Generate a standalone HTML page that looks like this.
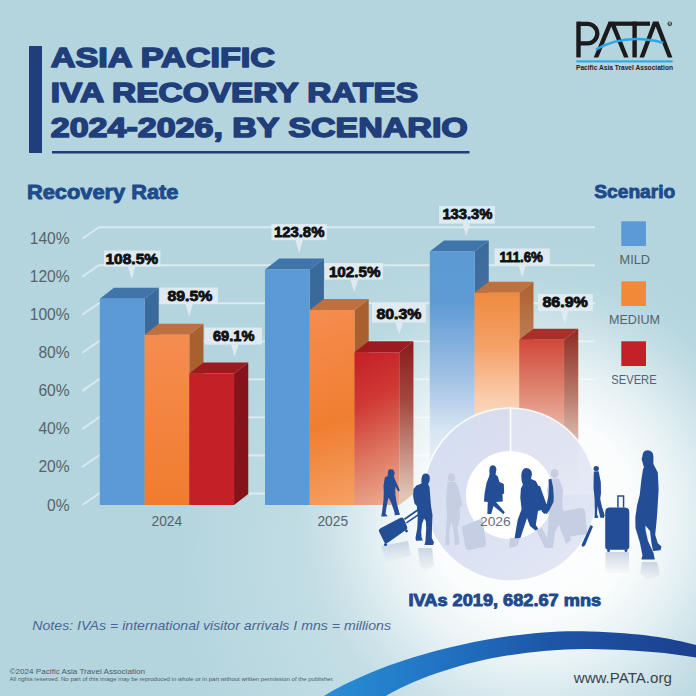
<!DOCTYPE html><html><head><meta charset="utf-8"><style>html,body{margin:0;padding:0;width:696px;height:696px;overflow:hidden;background:#b4d5de}svg{display:block}text{font-family:"Liberation Sans",sans-serif}</style></head><body>
<svg width="696" height="696" viewBox="0 0 696 696">
<defs>
<radialGradient id="glow" cx="535" cy="515" r="235" gradientUnits="userSpaceOnUse">
<stop offset="0" stop-color="#ffffff" stop-opacity="1"/>
<stop offset="0.43" stop-color="#ffffff" stop-opacity="0.92"/>
<stop offset="0.65" stop-color="#ffffff" stop-opacity="0.58"/>
<stop offset="0.78" stop-color="#ffffff" stop-opacity="0.32"/>
<stop offset="0.88" stop-color="#ffffff" stop-opacity="0.14"/>
<stop offset="1" stop-color="#ffffff" stop-opacity="0"/>
</radialGradient>
<radialGradient id="glow2" cx="500" cy="560" r="330" gradientUnits="userSpaceOnUse">
<stop offset="0" stop-color="#ffffff" stop-opacity="0.35"/>
<stop offset="0.6" stop-color="#ffffff" stop-opacity="0.18"/>
<stop offset="1" stop-color="#ffffff" stop-opacity="0"/>
</radialGradient>
<linearGradient id="swoosh" x1="320" y1="0" x2="696" y2="0" gradientUnits="userSpaceOnUse">
<stop offset="0" stop-color="#2a90d8"/>
<stop offset="0.35" stop-color="#2070c0"/>
<stop offset="0.62" stop-color="#1e55a6"/>
<stop offset="1" stop-color="#1b408e"/>
</linearGradient>
</defs>
<rect x="0" y="0" width="696" height="696" fill="#b4d5de"/>
<rect x="0" y="0" width="696" height="696" fill="url(#glow2)"/>
<rect x="0" y="0" width="696" height="696" fill="url(#glow)"/>
<rect x="29" y="46" width="13" height="107" fill="#1f3e7a"/>
<text x="50.8" y="67.2" font-size="27.8" font-weight="bold" fill="#1f3e7a" stroke="#1f3e7a" stroke-width="1.6" stroke-linejoin="round" textLength="224.2" lengthAdjust="spacingAndGlyphs">ASIA PACIFIC</text>
<text x="50.8" y="101.9" font-size="27.8" font-weight="bold" fill="#1f3e7a" stroke="#1f3e7a" stroke-width="1.6" stroke-linejoin="round" textLength="367.3" lengthAdjust="spacingAndGlyphs">IVA RECOVERY RATES</text>
<text x="50.8" y="136.9" font-size="27.8" font-weight="bold" fill="#1f3e7a" stroke="#1f3e7a" stroke-width="1.6" stroke-linejoin="round" textLength="417" lengthAdjust="spacingAndGlyphs">2024-2026, BY SCENARIO</text>
<rect x="52" y="151" width="417.5" height="2.5" fill="#1f3e7a"/>
<rect x="576.3" y="21.6" width="4.4" height="35.8" fill="#1b1b1d"/>
<path d="M578.5,23.8 H587.5 A9.8,9.8 0 0 1 587.5,43.4 H578.5" fill="none" stroke="#1b1b1d" stroke-width="4.3"/>
<polygon points="593.7,57.4 608.6,21.6 614,21.6 628.6,57.4 624,57.4 611.3,26.4 598.3,57.4" fill="#1b1b1d"/>
<rect x="614" y="21.6" width="36" height="4.2" fill="#1b1b1d"/>
<rect x="632.4" y="21.6" width="4.4" height="35.8" fill="#1b1b1d"/>
<polygon points="639.5,57.4 653,21.6 658.5,21.6 672.4,57.4 667.8,57.4 655.7,26.4 644.1,57.4" fill="#1b1b1d"/>
<path d="M596,49.5 Q625,33 663.3,42.7" fill="none" stroke="#2aa6e6" stroke-width="2.5"/>
<rect x="576.3" y="60.4" width="96.4" height="2" fill="#2aa6e6"/>
<circle cx="669.8" cy="23.8" r="2.3" fill="#3a3a3c"/><text x="669.8" y="25.2" font-size="3.2" font-weight="bold" fill="#b4d5de" text-anchor="middle">R</text>
<text x="576" y="69.6" font-size="6.4" font-weight="bold" fill="#222" textLength="97" lengthAdjust="spacingAndGlyphs">Pacific Asia Travel Association</text>
<text x="27" y="198.6" font-size="19.6" font-weight="bold" fill="#1e4b8b" stroke="#1e4b8b" stroke-width="0.9" stroke-linejoin="round" textLength="151.5" lengthAdjust="spacingAndGlyphs">Recovery Rate</text>
<text x="594.3" y="198.4" font-size="18.8" font-weight="bold" fill="#1e4b8b" stroke="#1e4b8b" stroke-width="0.9" stroke-linejoin="round" textLength="81" lengthAdjust="spacingAndGlyphs">Scenario</text>
<polyline points="82.3,505.00 98.8,493.50 595,493.50" fill="none" stroke="#ffffff" stroke-opacity="0.5" stroke-width="1.9" stroke-linejoin="round"/>
<text x="69.6" y="510.50" font-size="15.6" fill="#56636c" text-anchor="end">0%</text>
<polyline points="82.3,466.96 98.8,455.46 595,455.46" fill="none" stroke="#ffffff" stroke-opacity="0.5" stroke-width="1.9" stroke-linejoin="round"/>
<text x="69.6" y="472.46" font-size="15.6" fill="#56636c" text-anchor="end">20%</text>
<polyline points="82.3,428.92 98.8,417.42 595,417.42" fill="none" stroke="#ffffff" stroke-opacity="0.5" stroke-width="1.9" stroke-linejoin="round"/>
<text x="69.6" y="434.42" font-size="15.6" fill="#56636c" text-anchor="end">40%</text>
<polyline points="82.3,390.88 98.8,379.38 595,379.38" fill="none" stroke="#ffffff" stroke-opacity="0.5" stroke-width="1.9" stroke-linejoin="round"/>
<text x="69.6" y="396.38" font-size="15.6" fill="#56636c" text-anchor="end">60%</text>
<polyline points="82.3,352.84 98.8,341.34 595,341.34" fill="none" stroke="#ffffff" stroke-opacity="0.5" stroke-width="1.9" stroke-linejoin="round"/>
<text x="69.6" y="358.34" font-size="15.6" fill="#56636c" text-anchor="end">80%</text>
<polyline points="82.3,314.80 98.8,303.30 595,303.30" fill="none" stroke="#ffffff" stroke-opacity="0.5" stroke-width="1.9" stroke-linejoin="round"/>
<text x="69.6" y="320.30" font-size="15.6" fill="#56636c" text-anchor="end">100%</text>
<polyline points="82.3,276.76 98.8,265.26 595,265.26" fill="none" stroke="#ffffff" stroke-opacity="0.5" stroke-width="1.9" stroke-linejoin="round"/>
<text x="69.6" y="282.26" font-size="15.6" fill="#56636c" text-anchor="end">120%</text>
<polyline points="82.3,238.72 98.8,227.22 595,227.22" fill="none" stroke="#ffffff" stroke-opacity="0.5" stroke-width="1.9" stroke-linejoin="round"/>
<text x="69.6" y="244.22" font-size="15.6" fill="#56636c" text-anchor="end">140%</text>
<polygon points="144.55,298.63 158.75,287.63 158.75,494.00 144.55,505.00" fill="#3a6a9c"/>
<polygon points="99.80,298.63 114.00,287.63 158.75,287.63 144.55,298.63" fill="#3f75aa"/>
<rect x="99.80" y="298.63" width="44.75" height="206.37" fill="#5b9ad4"/>
<polygon points="189.30,334.77 203.50,323.77 203.50,494.00 189.30,505.00" fill="#a9602f"/>
<polygon points="144.55,334.77 158.75,323.77 203.50,323.77 189.30,334.77" fill="#c0703e"/>
<rect x="144.55" y="334.77" width="44.75" height="170.23" fill="url(#g_o24f)"/>
<polygon points="234.05,373.57 248.25,362.57 248.25,494.00 234.05,505.00" fill="#85141a"/>
<polygon points="189.30,373.57 203.50,362.57 248.25,362.57 234.05,373.57" fill="#9c1b1e"/>
<rect x="189.30" y="373.57" width="44.75" height="131.43" fill="#c42027"/>
<polygon points="309.75,269.53 323.95,258.53 323.95,494.00 309.75,505.00" fill="#3a6a9c"/>
<polygon points="265.00,269.53 279.20,258.53 323.95,258.53 309.75,269.53" fill="#3f75aa"/>
<rect x="265.00" y="269.53" width="44.75" height="235.47" fill="#5b9ad4"/>
<polygon points="354.50,310.05 368.70,299.05 368.70,494.00 354.50,505.00" fill="#a9602f"/>
<polygon points="309.75,310.05 323.95,299.05 368.70,299.05 354.50,310.05" fill="#c0703e"/>
<rect x="309.75" y="310.05" width="44.75" height="194.95" fill="url(#g_o25f)"/>
<polygon points="399.25,352.27 413.45,341.27 413.45,494.00 399.25,505.00" fill="url(#g_r25s)"/>
<polygon points="354.50,352.27 368.70,341.27 413.45,341.27 399.25,352.27" fill="#9c1b1e"/>
<rect x="354.50" y="352.27" width="44.75" height="152.73" fill="url(#g_r25f)"/>
<polygon points="474.55,251.46 488.75,240.46 488.75,494.00 474.55,505.00" fill="url(#g_b26s)"/>
<polygon points="429.80,251.46 444.00,240.46 488.75,240.46 474.55,251.46" fill="#3f75aa"/>
<rect x="429.80" y="251.46" width="44.75" height="253.54" fill="url(#g_b26f)"/>
<polygon points="519.30,292.74 533.50,281.74 533.50,494.00 519.30,505.00" fill="url(#g_o26s)"/>
<polygon points="474.55,292.74 488.75,281.74 533.50,281.74 519.30,292.74" fill="#c0703e"/>
<rect x="474.55" y="292.74" width="44.75" height="212.26" fill="url(#g_o26f)"/>
<polygon points="564.05,339.72 578.25,328.72 578.25,494.00 564.05,505.00" fill="url(#g_r26s)"/>
<polygon points="519.30,339.72 533.50,328.72 578.25,328.72 564.05,339.72" fill="#a83028"/>
<rect x="519.30" y="339.72" width="44.75" height="165.28" fill="url(#g_r26f)"/>
<defs><linearGradient id="g_o24f" gradientUnits="userSpaceOnUse" x1="0" y1="334.771" x2="0" y2="505"><stop offset="0" stop-color="#f58d50"/><stop offset="1" stop-color="#f07c2e"/></linearGradient><linearGradient id="g_o25f" gradientUnits="userSpaceOnUse" x1="309.75" y1="310.045" x2="379.5" y2="505"><stop offset="0" stop-color="#f58d50"/><stop offset="0.55" stop-color="#f07e30"/><stop offset="1" stop-color="#f5a46a"/></linearGradient><linearGradient id="g_r25f" gradientUnits="userSpaceOnUse" x1="354.5" y1="352.2694" x2="429.25" y2="505"><stop offset="0" stop-color="#c41f28"/><stop offset="0.3" stop-color="#cf3a34"/><stop offset="0.6" stop-color="#de7660"/><stop offset="1" stop-color="#f2bea4"/></linearGradient><linearGradient id="g_r25s" gradientUnits="userSpaceOnUse" x1="0" y1="341.2694" x2="0" y2="494"><stop offset="0" stop-color="#8a1a1c"/><stop offset="0.4" stop-color="#a44a40"/><stop offset="1" stop-color="#e0c4b4"/></linearGradient><linearGradient id="g_b26f" gradientUnits="userSpaceOnUse" x1="0" y1="251.46339999999998" x2="0" y2="505"><stop offset="0" stop-color="#5b9ad4"/><stop offset="0.2" stop-color="#5e9bd4"/><stop offset="0.5" stop-color="#a2c1e5"/><stop offset="0.7" stop-color="#d6e4f3"/><stop offset="1" stop-color="#ffffff"/></linearGradient><linearGradient id="g_b26s" gradientUnits="userSpaceOnUse" x1="0" y1="240.46339999999998" x2="0" y2="494"><stop offset="0" stop-color="#3a6a9c"/><stop offset="0.3" stop-color="#44729f"/><stop offset="0.6" stop-color="#a0b8d0"/><stop offset="1" stop-color="#ffffff"/></linearGradient><linearGradient id="g_o26f" gradientUnits="userSpaceOnUse" x1="0" y1="292.7368" x2="0" y2="505"><stop offset="0" stop-color="#f08a40"/><stop offset="0.25" stop-color="#f4a066"/><stop offset="0.48" stop-color="#facaa8"/><stop offset="0.72" stop-color="#fde8dc"/><stop offset="1" stop-color="#ffffff"/></linearGradient><linearGradient id="g_o26s" gradientUnits="userSpaceOnUse" x1="0" y1="281.7368" x2="0" y2="494"><stop offset="0" stop-color="#ae602f"/><stop offset="0.4" stop-color="#c08a64"/><stop offset="0.8" stop-color="#e8d4c4"/><stop offset="1" stop-color="#ffffff"/></linearGradient><linearGradient id="g_r26f" gradientUnits="userSpaceOnUse" x1="0" y1="339.71619999999996" x2="0" y2="505"><stop offset="0" stop-color="#d0483a"/><stop offset="0.3" stop-color="#de8470"/><stop offset="0.6" stop-color="#f0c2b2"/><stop offset="0.9" stop-color="#fbece6"/><stop offset="1" stop-color="#ffffff"/></linearGradient><linearGradient id="g_r26s" gradientUnits="userSpaceOnUse" x1="0" y1="328.71619999999996" x2="0" y2="494"><stop offset="0" stop-color="#8e2a22"/><stop offset="0.4" stop-color="#b87a6a"/><stop offset="0.75" stop-color="#e6ccc2"/><stop offset="1" stop-color="#ffffff"/></linearGradient></defs>
<text x="151.5" y="526.3" font-size="14" fill="#56636c" textLength="30.7" lengthAdjust="spacingAndGlyphs">2024</text>
<text x="317.4" y="526.3" font-size="14" fill="#56636c" textLength="30.7" lengthAdjust="spacingAndGlyphs">2025</text>
<rect x="104" y="250.5" width="56.40" height="16.10" fill="#e2ecf2" fill-opacity="0.92"/>
<polygon points="127.89999999999999,266.6 135.5,266.6 131.7,279.2" fill="#e2ecf2" fill-opacity="0.92"/>
<text x="105.50" y="263.50" font-size="13.8" font-weight="bold" fill="#111" stroke="#111" stroke-width="0.8" stroke-linejoin="round" textLength="52.5" lengthAdjust="spacingAndGlyphs">108.5%</text>
<rect x="159.5" y="287.5" width="58.40" height="16.10" fill="#e2ecf2" fill-opacity="0.92"/>
<polygon points="185.39999999999998,303.6 193.0,303.6 189.2,316.7" fill="#e2ecf2" fill-opacity="0.92"/>
<text x="167.50" y="301.20" font-size="13.8" font-weight="bold" fill="#111" stroke="#111" stroke-width="0.8" stroke-linejoin="round" textLength="44.9" lengthAdjust="spacingAndGlyphs">89.5%</text>
<rect x="204.5" y="327.5" width="57.50" height="17.10" fill="#e2ecf2" fill-opacity="0.92"/>
<polygon points="230.89999999999998,344.6 238.5,344.6 234.7,356.7" fill="#e2ecf2" fill-opacity="0.92"/>
<text x="213.00" y="340.70" font-size="13.8" font-weight="bold" fill="#111" stroke="#111" stroke-width="0.8" stroke-linejoin="round" textLength="41.4" lengthAdjust="spacingAndGlyphs">69.1%</text>
<rect x="271.5" y="224" width="55.40" height="16.10" fill="#e2ecf2" fill-opacity="0.92"/>
<polygon points="295.4,240.1 303.0,240.1 299.2,253.2" fill="#e2ecf2" fill-opacity="0.92"/>
<text x="273.90" y="236.70" font-size="13.8" font-weight="bold" fill="#111" stroke="#111" stroke-width="0.8" stroke-linejoin="round" textLength="50.5" lengthAdjust="spacingAndGlyphs">123.8%</text>
<rect x="325" y="263" width="57.90" height="16.60" fill="#e2ecf2" fill-opacity="0.92"/>
<polygon points="350.4,279.6 358.0,279.6 354.2,292.2" fill="#e2ecf2" fill-opacity="0.92"/>
<text x="328.90" y="276.50" font-size="13.8" font-weight="bold" fill="#111" stroke="#111" stroke-width="0.8" stroke-linejoin="round" textLength="51.5" lengthAdjust="spacingAndGlyphs">102.5%</text>
<rect x="372" y="304" width="54.00" height="18.60" fill="#e2ecf2" fill-opacity="0.92"/>
<polygon points="395.4,322.6 403.0,322.6 399.2,334.2" fill="#e2ecf2" fill-opacity="0.92"/>
<text x="376.50" y="318.90" font-size="13.8" font-weight="bold" fill="#111" stroke="#111" stroke-width="0.8" stroke-linejoin="round" textLength="44.9" lengthAdjust="spacingAndGlyphs">80.3%</text>
<rect x="439" y="206" width="55.90" height="17.60" fill="#e2ecf2" fill-opacity="0.92"/>
<polygon points="462.4,223.6 470.0,223.6 466.2,235.7" fill="#e2ecf2" fill-opacity="0.92"/>
<text x="442.40" y="218.70" font-size="13.8" font-weight="bold" fill="#111" stroke="#111" stroke-width="0.8" stroke-linejoin="round" textLength="50.0" lengthAdjust="spacingAndGlyphs">133.3%</text>
<rect x="494.5" y="248.5" width="55.30" height="16.10" fill="#e2ecf2" fill-opacity="0.92"/>
<polygon points="518.4000000000001,264.6 526.0,264.6 522.2,277.2" fill="#e2ecf2" fill-opacity="0.92"/>
<text x="499.40" y="262.20" font-size="13.8" font-weight="bold" fill="#111" stroke="#111" stroke-width="0.8" stroke-linejoin="round" textLength="43.5" lengthAdjust="spacingAndGlyphs">111.6%</text>
<rect x="538" y="294" width="54.90" height="17.10" fill="#e2ecf2" fill-opacity="0.92"/>
<polygon points="560.9000000000001,311.1 568.5,311.1 564.7,324.2" fill="#e2ecf2" fill-opacity="0.92"/>
<text x="542.40" y="306.70" font-size="13.8" font-weight="bold" fill="#111" stroke="#111" stroke-width="0.8" stroke-linejoin="round" textLength="45.5" lengthAdjust="spacingAndGlyphs">86.9%</text>
<rect x="621.3" y="221.3" width="24.7" height="24.7" fill="#5b9ad4"/>
<text x="619.6" y="264.3" font-size="12.8" fill="#56636c" textLength="30.4" lengthAdjust="spacingAndGlyphs">MILD</text>
<rect x="621.3" y="281.3" width="24.7" height="24.7" fill="#f2883a"/>
<text x="609" y="324.3" font-size="12.8" fill="#56636c" textLength="51.0" lengthAdjust="spacingAndGlyphs">MEDIUM</text>
<rect x="621.3" y="341.3" width="24.7" height="24.7" fill="#c42027"/>
<text x="611.3" y="384.3" font-size="12.8" fill="#56636c" textLength="45.3" lengthAdjust="spacingAndGlyphs">SEVERE</text>
<linearGradient id="ringg" gradientUnits="userSpaceOnUse" x1="430" y1="410" x2="590" y2="580"><stop offset="0" stop-color="#d4dcf0"/><stop offset="0.5" stop-color="#d9e0f2"/><stop offset="1" stop-color="#e2e7f4"/></linearGradient>
<path d="M510.2,408 A86.5,86.5 0 1 1 510.19,408 Z M510,451 A44,44 0 1 0 510.01,451 Z" fill="url(#ringg)" fill-opacity="0.95" fill-rule="evenodd"/>
<path d="M510.2,408 A86.5,86.5 0 0 1 596.7,494.5 L553.9,494.5 A44,44 0 0 0 510.2,451 Z" fill="#ffffff" fill-opacity="0.18"/>
<circle cx="510.2" cy="494.5" r="86.5" fill="none" stroke="#ffffff" stroke-width="1.6" stroke-opacity="0.85"/>
<circle cx="510" cy="495" r="44" fill="#ffffff"/>
<line x1="510.5" y1="408" x2="510.5" y2="451" stroke="#ffffff" stroke-width="1.6"/>
<g fill="#c6cee3"><ellipse cx="451.5" cy="477.5" rx="3.6" ry="4.2"/><path d="M447.5,482 L455.5,482 L459,490 L462.5,505 L459.5,508 L460,518 L457.5,528 L459.5,544 L455,546 L453.5,530 L451,522 L449,534 L449.5,545 L445.5,545 L446,530 L447,515 L446,500 Z"/><path d="M463,526 L479,519.5 Q482,518.5 483,521.5 L486,543 Q486.5,546 483.5,547 L469,550 Q466,550.5 465.5,547.5 L462,529 Q461.5,527 463,526 Z"/><ellipse cx="554.5" cy="473.5" rx="4" ry="4.6"/><path d="M549,479 L559,478.5 L563,490 L562,505 L566,520 L571,540 L566,544 L559,525 L555,532 L553,548 L546,548 L548,530 L549,505 L547,490 Z"/><path d="M560,512 L580,508 Q584,507.5 585,511 L587,530 Q587.5,534 584,534.5 L566,537 Q563,537.5 562.5,534 L559,516 Q558.5,513 560,512 Z"/><path d="M510,538 L520,538 L517,546 L509,548 Z M536,530 L542,528 L550,544 L545,548 Z"/></g>
<linearGradient id="refl" x1="0" y1="0" x2="0" y2="1"><stop offset="0" stop-color="#b8c4da" stop-opacity="0.7"/><stop offset="1" stop-color="#c8d2e2" stop-opacity="0.1"/></linearGradient>
<g fill="url(#refl)"><path d="M418,548 L432,548 L434,565 L426,572 L420,566 Z"/><path d="M381,546 L408,541 L411,556 L386,562 Z"/><path d="M605.5,552 L629,552 L629,573 L605.5,573 Z"/><path d="M642,562 L657,562 L660,575 L648,580 L640,574 Z"/></g>
<clipPath id="inner"><circle cx="510" cy="495" r="44"/></clipPath>
<g fill="#234d94"><path d="M389.5,469.3 Q394.5,468.5 394.6,473.5 L393.8,476.5 Q394.5,477.5 395.2,480 L399.8,490.3 L398.3,491.5 L395.3,486.5 L395.3,493.5 L396.5,502 L399.2,512.5 L400,514.8 L394.5,515.3 L394.8,513.2 L391.5,503.5 L388.5,497.5 L386.5,507 L385.5,513.8 L387.8,516.3 L381.2,516.6 L382,512.5 L383.5,500 L383.8,492.5 L383.5,486 L384.8,477.5 L387.8,475.8 Q387.5,470.5 389.5,469.3 Z"/><path d="M425.3,473.6 Q430,473.8 429.8,478.5 L429.3,482 L428,484 L429.5,487 L430.5,500 L431,506 L432.5,515 L432,526 L431.8,538 L434,542.5 L433,545 L424.5,545 L425.5,540.5 L426.2,528 L425.8,521 L424,518.5 L422,524 L421.2,532 L421.6,537.5 L422.8,540.5 L416,540.8 L415.5,538 L417.3,528 L417.8,516 L416.8,506 L414.5,503.5 L413.1,496 L413.5,489 L416.5,485.5 L421.5,483.5 Q420.8,474 425.3,473.6 Z"/><path d="M418.3,508.6 L404,518.6 L405,520 L419.2,510 Z M419.5,513 L406,522.3 L406.8,523.5 L420.2,514.4 Z"/><path d="M380.5,528.2 L400.5,517.7 Q403,516.8 404,519 L407,526.5 Q408,529 405.5,530.3 L387.8,542.8 Q385.5,544.2 384.2,542 L379,531.5 Q378.2,529.5 380.5,528.2 Z"/><circle cx="385.5" cy="544.5" r="1.6"/><circle cx="406.5" cy="531" r="1.4"/><path d="M548.5,479.5 L551.3,478.8 Q554.5,490 553.5,502 L549,511 L544,514 L542.5,511 L547,503 Q550,491 548.5,479.5 Z"/><path d="M647.4,450.2 Q653.6,450.5 653.4,457 L653.4,464 L657.8,472.6 L658.6,489.8 L657.8,503.6 L656.9,517.4 L655.2,534.7 L657.8,543.3 L661.5,546.5 L660.5,550.2 L653,551 L651.5,543 L650,531 L645.5,525.5 L645.5,530 L648,541 L653.5,553 L654.8,559.6 L641.4,559.6 L642.5,555.5 L640,543 L635.5,528 L635.3,517.4 L637.1,505.3 L639.7,495 L641.4,479.5 L643.1,469.1 L644,467.4 L642.6,462.5 L641.6,459 L642.4,456.5 Q642.5,450.5 647.4,450.2 Z"/><path d="M609.5,507.4 L625,507.4 Q629.3,507.4 629.3,512 L629.3,546.5 Q629.3,549.7 626,549.7 L608.5,549.7 Q605.2,549.7 605.2,546.5 L605.2,512 Q605.2,507.4 609.5,507.4 Z"/><path d="M617.2,495.3 L624.3,495.3 L624.3,507.4 L622.8,507.4 L622.8,496.8 L618.7,496.8 L618.7,507.4 L617.2,507.4 Z"/><circle cx="608.5" cy="550.5" r="1.5"/><circle cx="626" cy="550.5" r="1.5"/><circle cx="596.2" cy="468.6" r="2.7"/><path d="M593.8,471.5 L598.6,471.2 L600.8,482 L601,493 L600.2,499 L602,507 L604.8,515.5 L603.5,518 L600,517.5 L599.5,514 L597.5,506 L597,514 L598.5,517.8 L594.5,518 L594.8,510 L594.6,499 L593.5,488 Z"/><path d="M590.5,525 L593,526.5 L585,545.5 L582.5,547 L581.5,545 Z"/></g>
<g fill="#234d94" clip-path="url(#inner)"><path d="M492.5,465.3 Q496.8,465.6 496.3,470.5 L495.5,474.5 L497.8,476.5 L499.5,482 L503.8,484 L504.2,493.5 L502.5,494 L502.8,501.6 L496,502 L504.8,512.2 L503.5,514.2 L493.5,506 L491.2,513.9 L487.3,513.9 L487.8,502 L484,501.6 L484.5,494 L486.5,483 L489.2,476 L489.6,473.5 Q488.5,466 492.5,465.3 Z"/><path d="M526,467.9 Q532.2,468.2 531.9,474.5 L531,479 L535.8,481 L539.7,488.6 L543.6,497.7 L545,509 L538,511 L535.8,524.9 L538.8,529.5 L536,531 L530,526 L527,518 L520.3,538.5 L514.5,538.5 L517.7,519.7 L521.6,509.3 L520.3,497.7 L520.9,488.6 L522.9,484.8 L521.8,481.5 Q519.8,469 526,467.9 Z"/><path d="M537,486 L540,486 L546,503 L549,510 L547,514 L542,512 Z"/></g>
<text x="480" y="526.2" font-size="13.5" fill="#6a7078" textLength="30.7" lengthAdjust="spacingAndGlyphs">2026</text>
<text x="408.5" y="605.7" font-size="16.2" font-weight="bold" fill="#1f4a8c" stroke="#1f4a8c" stroke-width="0.9" stroke-linejoin="round" textLength="192.6" lengthAdjust="spacingAndGlyphs">IVAs 2019, 682.67 mns</text>
<text x="32.3" y="629.7" font-size="13" font-style="italic" fill="#4a6593" textLength="358.7" lengthAdjust="spacingAndGlyphs">Notes: IVAs = international visitor arrivals I mns = millions</text>
<text x="9.6" y="674.3" font-size="8" fill="#4d5b66" textLength="135.4" lengthAdjust="spacingAndGlyphs">©2024 Pacific Asia Travel Association</text>
<text x="9.6" y="681.4" font-size="4.6" fill="#4d5b66" textLength="324.4" lengthAdjust="spacingAndGlyphs">All rights reserved. No part of this image may be reproduced in whole or in part without written permission of the publisher.</text>
<path d="M323.8,696 C400,650 520,628 590,631.5 C640,633 670,638 696,645 L696,657.5 C670,653 640,650 590,649 C520,648 440,665 385.9,696 Z" fill="url(#swoosh)"/>
<text x="573.8" y="683.2" font-size="14" fill="#38434e" textLength="98" lengthAdjust="spacingAndGlyphs">www.PATA.org</text>
</svg></body></html>
